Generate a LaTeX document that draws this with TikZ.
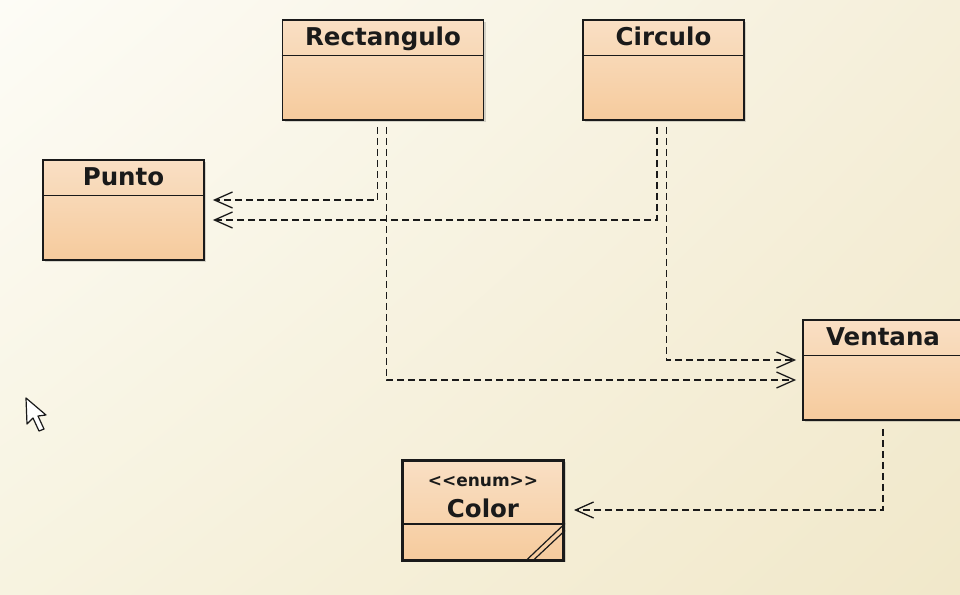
\documentclass[tikz,border=0pt]{standalone}
\usepackage{fontspec}
\newfontfamily\umlfont{DejaVu Sans}
\usepackage{tikz}
\usetikzlibrary{positioning, arrows.meta, calc, shadows, shadings}
\definecolor{uml-hdr}{HTML}{F9DFC4}
\definecolor{uml-body}{HTML}{F6CB9D}
\definecolor{uml-line}{HTML}{1A1A1A}
\definecolor{bg-tl}{HTML}{FDFCF6}
\definecolor{bg-tr}{HTML}{F5EFDA}
\definecolor{bg-bl}{HTML}{F7F3E0}
\definecolor{bg-br}{HTML}{F1E8CA}

\begin{document}
\begin{tikzpicture}[
    x=1pt, y=-1pt,
    cls/.style={draw=uml-line, line width=1.8pt, minimum width=161pt, minimum height=100pt,
                top color=uml-hdr, bottom color=uml-body,
                drop shadow={shadow xshift=2pt, shadow yshift=-2pt, opacity=0.25, fill=black!60}},
    clsname/.style={minimum height=36pt, inner sep=0pt, text height=26pt, text depth=10pt,
                    text=uml-line, font=\umlfont\bfseries\fontsize{24.5}{26}\selectfont},
    dep/.style={draw=uml-line, line width=1.3pt, dash pattern=on 7pt off 4pt,
                -{Straight Barb[length=18pt, width=16pt, line width=1.3pt]}},
]
    \useasboundingbox (0,0) rectangle (960,594);
    \clip (0,0) rectangle (960,594);
    \shade[upper left=bg-tl, upper right=bg-tr, lower left=bg-bl, lower right=bg-br]
        (0,0) rectangle (960,594);

    % classes
    \node[cls, minimum width=201pt] (rect) at (383,70) {};
    \node[clsname, below=0pt of rect.north] (rect-name) {Rectangulo};
    \draw[uml-line, line width=1.8pt] (rect.west |- rect-name.south) -- (rect.east |- rect-name.south);

    \node[cls] (circ) at (663.5,70) {};
    \node[clsname, below=0pt of circ.north] (circ-name) {Circulo};
    \draw[uml-line, line width=1.8pt] (circ.west |- circ-name.south) -- (circ.east |- circ-name.south);

    \node[cls] (punto) at (123.5,210) {};
    \node[clsname, below=0pt of punto.north] (punto-name) {Punto};
    \draw[uml-line, line width=1.8pt] (punto.west |- punto-name.south) -- (punto.east |- punto-name.south);

    \node[cls, minimum width=160pt] (vent) at (883,370) {};
    \node[clsname, below=0pt of vent.north] (vent-name) {Ventana};
    \draw[uml-line, line width=1.8pt] (vent.west |- vent-name.south) -- (vent.east |- vent-name.south);

    \node[cls, line width=3pt] (color) at (483,510) {};
    \node[inner sep=0pt, align=center, text=uml-line, font=\umlfont\bfseries\fontsize{24.5}{26}\selectfont,
          below=18pt of color.north] (color-name)
        {{\fontsize{17}{19}\selectfont <<enum>>}\\[5pt]Color};
    \draw[uml-line, line width=2pt] ([yshift=-65pt]color.north west) -- ([yshift=-65pt]color.north east);
    \draw[uml-line, line width=1.2pt] ([yshift=38pt]color.south east) -- ([xshift=-40pt]color.south east);
    \draw[uml-line, line width=1.2pt] ([yshift=31pt]color.south east) -- ([xshift=-33pt]color.south east);

    % dependencies
    \draw[dep] ([xshift=-5.5pt, yshift=-6pt]rect.south) |- ([xshift=8pt, yshift=10pt]punto.east);
    \draw[dep] ([xshift=-6.5pt, yshift=-6pt]circ.south) |- ([xshift=8pt, yshift=-10pt]punto.east);
    \draw[dep] ([xshift=3.5pt, yshift=-6pt]rect.south) |- ([xshift=-6pt, yshift=-10pt]vent.west);
    \draw[dep] ([xshift=3pt, yshift=-6pt]circ.south) |- ([xshift=-6pt, yshift=10pt]vent.west);
    \draw[dep] ([yshift=-8pt]vent.south) |- ([xshift=9pt]color.east);

    % mouse pointer
    \draw[uml-line, fill=white, line width=1.2pt, line join=round]
        (26,398) -- (27,424) -- (33,418) -- (39,431) -- (44,429) -- (38,416) -- (46,415) -- cycle;
\end{tikzpicture}
\end{document}
